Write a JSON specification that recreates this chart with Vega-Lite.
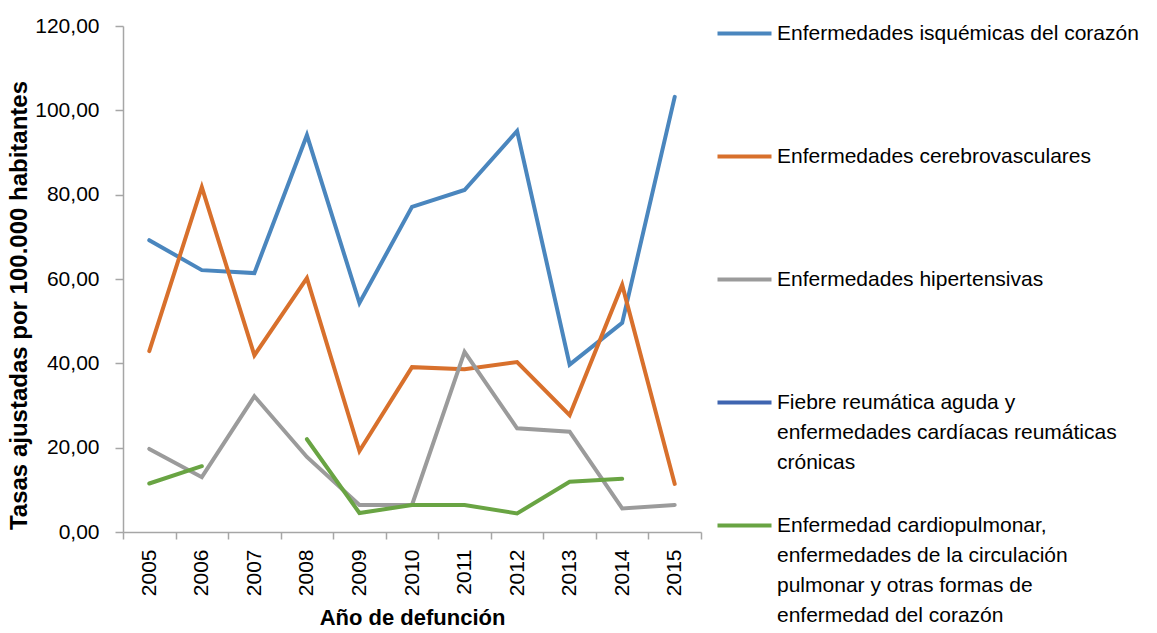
{
  "$schema": "https://vega.github.io/schema/vega-lite/v6.json",
  "width": 578,
  "height": 506,
  "autosize": {"type": "none"},
  "padding": {"left": 123, "top": 26, "right": 456, "bottom": 101},
  "background": "white",
  "config": {
    "view": {"stroke": null},
    "font": "Liberation Sans, Arial, sans-serif"
  },
  "data": {
    "values": [
      {"anio": "2005", "serie": "Enfermedades isquémicas del corazón", "tasa": 69.2},
      {"anio": "2006", "serie": "Enfermedades isquémicas del corazón", "tasa": 62.1},
      {"anio": "2007", "serie": "Enfermedades isquémicas del corazón", "tasa": 61.4},
      {"anio": "2008", "serie": "Enfermedades isquémicas del corazón", "tasa": 94.1},
      {"anio": "2009", "serie": "Enfermedades isquémicas del corazón", "tasa": 54.3},
      {"anio": "2010", "serie": "Enfermedades isquémicas del corazón", "tasa": 77.1},
      {"anio": "2011", "serie": "Enfermedades isquémicas del corazón", "tasa": 81.1},
      {"anio": "2012", "serie": "Enfermedades isquémicas del corazón", "tasa": 95.1},
      {"anio": "2013", "serie": "Enfermedades isquémicas del corazón", "tasa": 39.7},
      {"anio": "2014", "serie": "Enfermedades isquémicas del corazón", "tasa": 49.6},
      {"anio": "2015", "serie": "Enfermedades isquémicas del corazón", "tasa": 103.2},
      {"anio": "2005", "serie": "Enfermedades cerebrovasculares", "tasa": 42.9},
      {"anio": "2006", "serie": "Enfermedades cerebrovasculares", "tasa": 81.8},
      {"anio": "2007", "serie": "Enfermedades cerebrovasculares", "tasa": 41.9},
      {"anio": "2008", "serie": "Enfermedades cerebrovasculares", "tasa": 60.2},
      {"anio": "2009", "serie": "Enfermedades cerebrovasculares", "tasa": 19.2},
      {"anio": "2010", "serie": "Enfermedades cerebrovasculares", "tasa": 39.1},
      {"anio": "2011", "serie": "Enfermedades cerebrovasculares", "tasa": 38.6},
      {"anio": "2012", "serie": "Enfermedades cerebrovasculares", "tasa": 40.3},
      {"anio": "2013", "serie": "Enfermedades cerebrovasculares", "tasa": 27.7},
      {"anio": "2014", "serie": "Enfermedades cerebrovasculares", "tasa": 58.6},
      {"anio": "2015", "serie": "Enfermedades cerebrovasculares", "tasa": 11.4},
      {"anio": "2005", "serie": "Enfermedades hipertensivas", "tasa": 19.7},
      {"anio": "2006", "serie": "Enfermedades hipertensivas", "tasa": 13.0},
      {"anio": "2007", "serie": "Enfermedades hipertensivas", "tasa": 32.2},
      {"anio": "2008", "serie": "Enfermedades hipertensivas", "tasa": 17.8},
      {"anio": "2009", "serie": "Enfermedades hipertensivas", "tasa": 6.4},
      {"anio": "2010", "serie": "Enfermedades hipertensivas", "tasa": 6.4},
      {"anio": "2011", "serie": "Enfermedades hipertensivas", "tasa": 42.7},
      {"anio": "2012", "serie": "Enfermedades hipertensivas", "tasa": 24.6},
      {"anio": "2013", "serie": "Enfermedades hipertensivas", "tasa": 23.8},
      {"anio": "2014", "serie": "Enfermedades hipertensivas", "tasa": 5.6},
      {"anio": "2015", "serie": "Enfermedades hipertensivas", "tasa": 6.4},
      {"anio": "2005", "serie": "Enfermedad cardiopulmonar, enfermedades de la circulación pulmonar y otras formas de enfermedad del corazón", "tasa": 11.5},
      {"anio": "2006", "serie": "Enfermedad cardiopulmonar, enfermedades de la circulación pulmonar y otras formas de enfermedad del corazón", "tasa": 15.6},
      {"anio": "2007", "serie": "Enfermedad cardiopulmonar, enfermedades de la circulación pulmonar y otras formas de enfermedad del corazón", "tasa": null},
      {"anio": "2008", "serie": "Enfermedad cardiopulmonar, enfermedades de la circulación pulmonar y otras formas de enfermedad del corazón", "tasa": 22.0},
      {"anio": "2009", "serie": "Enfermedad cardiopulmonar, enfermedades de la circulación pulmonar y otras formas de enfermedad del corazón", "tasa": 4.5},
      {"anio": "2010", "serie": "Enfermedad cardiopulmonar, enfermedades de la circulación pulmonar y otras formas de enfermedad del corazón", "tasa": 6.4},
      {"anio": "2011", "serie": "Enfermedad cardiopulmonar, enfermedades de la circulación pulmonar y otras formas de enfermedad del corazón", "tasa": 6.4},
      {"anio": "2012", "serie": "Enfermedad cardiopulmonar, enfermedades de la circulación pulmonar y otras formas de enfermedad del corazón", "tasa": 4.4},
      {"anio": "2013", "serie": "Enfermedad cardiopulmonar, enfermedades de la circulación pulmonar y otras formas de enfermedad del corazón", "tasa": 11.9},
      {"anio": "2014", "serie": "Enfermedad cardiopulmonar, enfermedades de la circulación pulmonar y otras formas de enfermedad del corazón", "tasa": 12.6},
      {"anio": "2015", "serie": "Enfermedad cardiopulmonar, enfermedades de la circulación pulmonar y otras formas de enfermedad del corazón", "tasa": null}
    ]
  },
  "mark": {"type": "line", "strokeWidth": 4, "invalid": "break-paths-show-domains", "strokeCap": "round", "strokeJoin": "miter"},
  "encoding": {
    "x": {
      "field": "anio",
      "type": "ordinal",
      "scale": {"type": "band", "paddingInner": 0, "paddingOuter": 0},
      "axis": {
        "title": "Año de defunción",
        "titleFontSize": 22,
        "titleFontWeight": "bold",
        "titleColor": "#000000",
        "titlePadding": 12,
        "labelAngle": -90,
        "labelAlign": "right",
        "labelBaseline": "middle",
        "labelFontSize": 21,
        "labelColor": "#000000",
        "labelPadding": 10,
        "tickBand": "extent",
        "tickSize": 7,
        "tickColor": "#a6a6a6",
        "domainColor": "#a6a6a6",
        "domainWidth": 1.5,
        "tickWidth": 1.5,
        "grid": false
      }
    },
    "y": {
      "field": "tasa",
      "type": "quantitative",
      "scale": {"domain": [0, 120], "nice": false, "zero": true},
      "axis": {
        "title": "Tasas ajustadas por 100.000 habitantes",
        "titleFontSize": 24,
        "titleFontWeight": "bold",
        "titleColor": "#000000",
        "titleX": -92,
        "titleY": 279,
        "titleBaseline": "bottom",
        "titleAngle": -90,
        "titleAlign": "center",
        "values": [0, 20, 40, 60, 80, 100, 120],
        "labelExpr": "replace(format(datum.value, '.2f'), '.', ',')",
        "labelFontSize": 21,
        "labelColor": "#000000",
        "labelPadding": 16,
        "tickSize": 8,
        "tickColor": "#a6a6a6",
        "domainColor": "#a6a6a6",
        "domainWidth": 1.5,
        "tickWidth": 1.5,
        "grid": false
      }
    },
    "color": {
      "field": "serie",
      "type": "nominal",
      "scale": {
        "domain": [
          "Enfermedades isquémicas del corazón",
          "Enfermedades cerebrovasculares",
          "Enfermedades hipertensivas",
          "Fiebre reumática aguda y enfermedades cardíacas reumáticas crónicas",
          "Enfermedad cardiopulmonar, enfermedades de la circulación pulmonar y otras formas de enfermedad del corazón"
        ],
        "range": ["#4a86be", "#d8702c", "#9b9b9b", "#3f65b0", "#69a443"]
      },
      "legend": {
        "title": null,
        "orient": "none",
        "legendX": 606,
        "legendY": -8,
        "padding": 0,
        "symbolType": "M-2,0H2",
        "symbolSize": 729,
        "symbolStrokeWidth": 4,
        "symbolFillColor": "transparent",
        "labelFontSize": 21,
        "labelColor": "#000000",
        "labelOffset": 17,
        "labelLimit": 600,
        "labelBaseline": "top",
        "gridAlign": "all",
        "rowPadding": 7,
        "labelExpr": "datum.label == 'Fiebre reumática aguda y enfermedades cardíacas reumáticas crónicas' ? ['Fiebre reumática aguda y', 'enfermedades cardíacas reumáticas', 'crónicas'] : datum.label == 'Enfermedad cardiopulmonar, enfermedades de la circulación pulmonar y otras formas de enfermedad del corazón' ? ['Enfermedad cardiopulmonar,', 'enfermedades de la circulación', 'pulmonar y otras formas de', 'enfermedad del corazón'] : datum.label",
        "encode": {
          "labels": {"update": {"lineHeight": {"value": 30}, "dy": {"value": -11}}}
        }
      }
    }
  }
}
